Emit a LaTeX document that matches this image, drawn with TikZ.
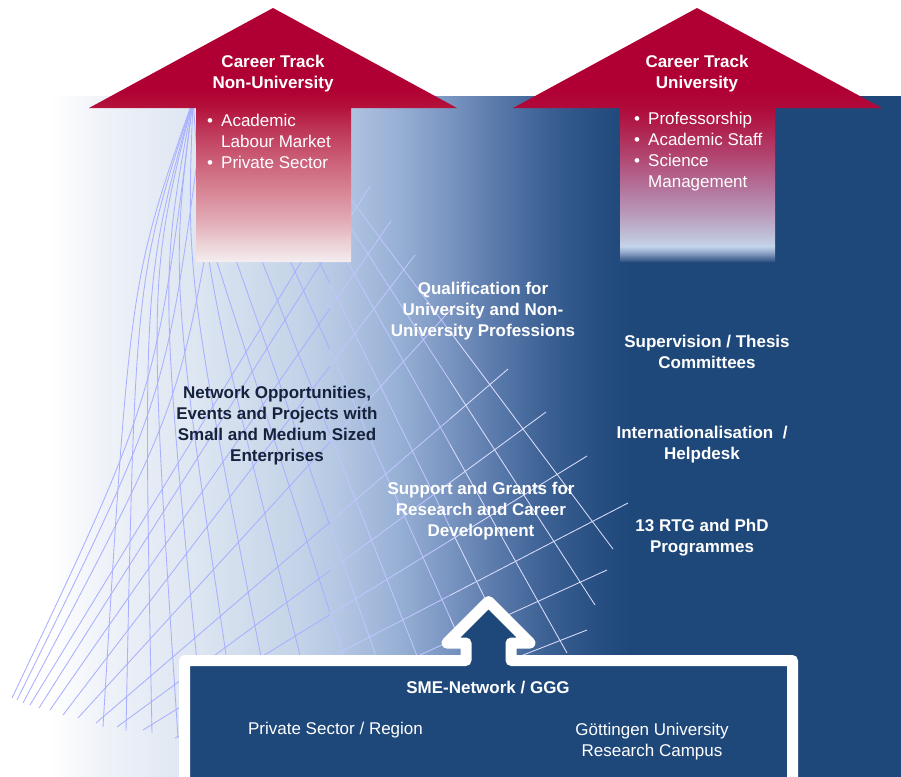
\documentclass[tikz,border=0pt]{standalone}
\usepackage{fontspec}
\setmainfont{Liberation Sans}
\usetikzlibrary{positioning}

\definecolor{uniblue}{RGB}{31,72,122}
\definecolor{unired}{RGB}{176,0,51}
\definecolor{navytext}{RGB}{22,34,60}
\definecolor{meshlight}{RGB}{168,176,255}
\definecolor{meshmid}{RGB}{192,198,255}
\definecolor{meshdark}{RGB}{218,221,252}

% background colours, left to right
\definecolor{bgA}{RGB}{240,243,249}
\definecolor{bgB}{RGB}{220,229,241}
\definecolor{bgC}{RGB}{196,211,232}
\definecolor{bgD}{RGB}{175,195,225}
\definecolor{bgE}{RGB}{150,175,212}
\definecolor{bgF}{RGB}{120,148,192}
\definecolor{bgG}{RGB}{88,120,170}
\definecolor{bgH}{RGB}{58,95,146}
\definecolor{bgI}{RGB}{38,78,128}
\pgfdeclarehorizontalshading{bgfade}{100bp}{color(0bp)=(white); color(27.8bp)=(white);
  color(30.5bp)=(bgA); color(36.1bp)=(bgB); color(41.6bp)=(bgC); color(44.4bp)=(bgD);
  color(47.2bp)=(bgE); color(50bp)=(bgF); color(52.7bp)=(bgG); color(55.5bp)=(bgH);
  color(58.3bp)=(bgI); color(60bp)=(uniblue); color(100bp)=(uniblue)}

% left arrow: red to pale
\definecolor{rlA}{RGB}{244,238,240}
\definecolor{rlB}{RGB}{236,212,216}
\definecolor{rlC}{RGB}{226,170,180}
\definecolor{rlD}{RGB}{215,132,148}
\definecolor{rlE}{RGB}{203,95,120}
\definecolor{rlF}{RGB}{190,55,88}
\definecolor{rlG}{RGB}{180,18,60}
\pgfdeclareverticalshading{redfade}{100bp}{color(0bp)=(rlA); color(25bp)=(rlA);
  color(28.3bp)=(rlB); color(33.3bp)=(rlC); color(39.2bp)=(rlD); color(45.1bp)=(rlE);
  color(51bp)=(rlF); color(55.3bp)=(rlG); color(58.9bp)=(unired); color(100bp)=(unired)}

% right arrow: red to light blue
\definecolor{rrA}{RGB}{40,76,126}
\definecolor{rrB}{RGB}{150,172,205}
\definecolor{rrC}{RGB}{195,212,235}
\definecolor{rrD}{RGB}{190,190,215}
\definecolor{rrE}{RGB}{185,155,188}
\definecolor{rrF}{RGB}{180,118,158}
\definecolor{rrG}{RGB}{178,75,118}
\definecolor{rrH}{RGB}{176,35,80}
\definecolor{rrI}{RGB}{176,10,58}
\pgfdeclareverticalshading{redblue}{100bp}{color(0bp)=(rrA); color(25bp)=(rrA);
  color(27bp)=(rrB); color(28.1bp)=(rrC); color(30.3bp)=(rrD); color(34.3bp)=(rrE);
  color(39.2bp)=(rrF); color(45.1bp)=(rrG); color(51bp)=(rrH); color(55.3bp)=(rrI);
  color(58.9bp)=(unired); color(100bp)=(unired)}

\newcommand{\bpt}{\makebox[14pt][l]{\textbullet}}
\newcommand{\bsp}{\hspace*{14pt}}

% the net behind the texts
\newcommand{\meshnet}{%
  % rising lines, the steep ones bend into the top corner
  \foreach \sx/\sy/\cx/\cy/\ex/\ey in {12/698/156/395/193/100, 17/700/165/400/200/140,
      23/703/178/410/215/200} {
    \draw[meshline] (\sx,\sy) .. controls (\cx,\cy) .. (\ex,\ey);
  }
  \foreach \sx/\sy/\ex/\ey in {30/705/330/215,
      39/708/370/186, 50/710/391/221, 63/715/415/255, 78/718/455/305, 96/723/508/369,
      117/727/546/412, 143/730/587/456, 175/738/628/503, 215/748/607/570, 260/758/587/630} {
    \draw[meshline] (\sx,\sy) -- (\ex,\ey);
  }
  % falling lines bent round the top corner
  \foreach \cx/\ex/\ey in {130/103/727, 135/126/731, 143/152/733, 148/178/738,
      159/205/742, 170/240/748, 186/280/752, 206/325/755} {
    \draw[meshline] (193,100) .. controls (\cx,280) .. (\ex,\ey);
  }
  % falling lines from under the left arrow
  \foreach \sx/\sy/\ex/\ey in {205/225/375/752, 220/215/410/752, 240/205/450/740,
      262/198/495/718, 285/192/530/690, 305/186/567/653, 322/183/595/605, 335/178/613/549} {
    \draw[meshline] (\sx,\sy) -- (\ex,\ey);
  }%
}

\begin{document}
\begin{tikzpicture}[x=1pt, y=-1pt,
  meshline/.style={line width=0.85pt},
  headtext/.style={text=white, font=\fontsize{17}{21}\selectfont\bfseries, align=center},
  listtext/.style={text=white, font=\fontsize{17}{21}\selectfont, align=left, anchor=west, inner sep=0pt},
  lighttext/.style={text=white, font=\fontsize{17}{21}\selectfont\bfseries, align=center},
  darktext/.style={text=navytext, font=\fontsize{17}{21}\selectfont\bfseries, align=center},
  boxtext/.style={text=white, font=\fontsize{17}{21}\selectfont, align=center}]
\useasboundingbox (0,0) rectangle (901,776);

% Background
\shade[shading=bgfade] (0,96) rectangle (901,776);

% Mesh, lighter where the background turns dark
\begin{scope}[meshlight]
  \clip (0,96) rectangle (330,776);
  \meshnet
\end{scope}
\begin{scope}[meshmid]
  \clip (330,96) rectangle (450,776);
  \meshnet
\end{scope}
\begin{scope}[meshdark]
  \clip (450,96) rectangle (901,776);
  \meshnet
\end{scope}

% Career track arrows
\shade[shading=redfade] (273,8) -- (457,108) -- (351,108) -- (351,262) -- (196,262)
  -- (196,108) -- (89,108) -- cycle;
\shade[shading=redblue] (697,8) -- (882,108) -- (775,108) -- (775,262) -- (620,262)
  -- (620,108) -- (513,108) -- cycle;

\node[headtext] (nonuni) at (273,74) {Career Track\\Non-University};
\node[headtext] (uni) at (697,74) {Career Track\\University};
\node[listtext] (nonunilist) at (207,141.5) {\bpt Academic\\\bsp Labour Market\\\bpt Private Sector};
\node[listtext] (unilist) at (634,152) {\bpt Professorship\\\bpt Academic Staff\\\bpt Science\\\bsp Management};

% Offers
\node[darktext] (network) at (277,426) {Network Opportunities,\\Events and Projects with\\Small and Medium Sized\\Enterprises};
\node[lighttext] (qualif) at (483,311.5) {Qualification for\\University and Non-\\University Professions};
\node[lighttext] (support) at (481,511.5) {Support and Grants for\\Research and Career\\Development};
\node[lighttext] (superv) at (707,352) {Supervision / Thesis\\Committees};
\node[lighttext] (intern) at (702,445) {Internationalisation~~/\\Helpdesk};
\node[lighttext] (rtg) at (702,538) {13 RTG and PhD\\Programmes};

% SME box with arrow
\filldraw[fill=uniblue, draw=white, line width=11pt, line join=round]
  (184.5,790) -- (184.5,660.5) -- (466,660.5) -- (466,643) -- (447,643) -- (488.5,601.5)
  -- (530,643) -- (511,643) -- (511,660.5) -- (792.5,660.5) -- (792.5,790);
\node[lighttext] (sme) at (488,687) {SME-Network / GGG};
\node[boxtext] (region) at (335.5,730.5) {Private Sector / Region};
\node[boxtext] (campus) at (652,741.5) {Göttingen University\\Research Campus};

\end{tikzpicture}
\end{document}
